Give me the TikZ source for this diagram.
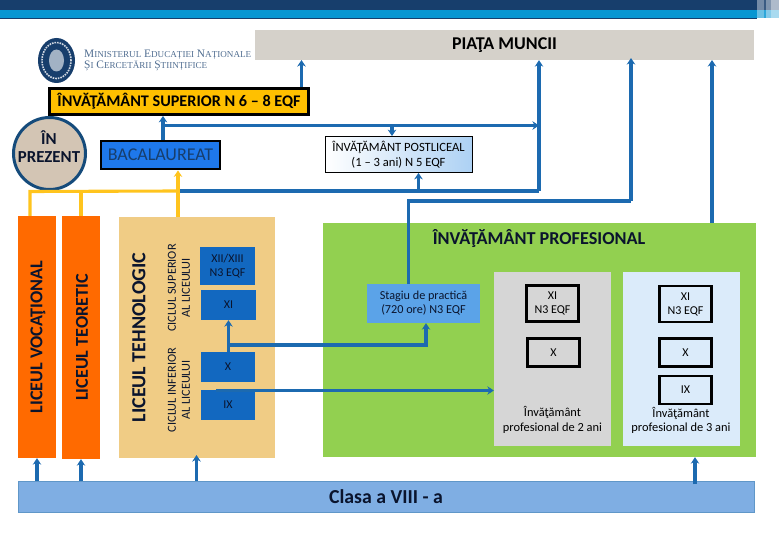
\documentclass[tikz,border=0pt]{standalone}
\usepackage{fontspec}
\usepackage{xcolor}
\setmainfont{Carlito}
\newfontfamily\logofont{Liberation Serif}
\usetikzlibrary{arrows.meta, positioning, shapes.geometric}
\definecolor{cNavy}{RGB}{23,62,108}
\definecolor{cBand}{RGB}{8,150,210}
\definecolor{cLine}{RGB}{28,106,176}
\definecolor{cYellow}{RGB}{255,196,30}
\definecolor{cGold}{RGB}{255,192,0}
\definecolor{cOrange}{RGB}{255,106,0}
\definecolor{cTan}{RGB}{240,204,133}
\definecolor{cGreen}{RGB}{146,208,80}
\definecolor{cBlue}{RGB}{18,104,192}
\definecolor{cBac}{RGB}{30,120,235}
\definecolor{cSky}{RGB}{91,163,232}
\definecolor{cBase}{RGB}{127,174,227}
\definecolor{cMarket}{RGB}{213,209,202}
\definecolor{cStone}{RGB}{211,197,180}
\definecolor{cInk}{RGB}{10,20,45}
\newcommand{\smallinit}[1]{{\fontsize{9.1}{11}\selectfont #1}}
\tikzset{
    plainbox/.style={rectangle, inner sep=0pt, text centered, align=center, draw=none},
    blackbox/.style={plainbox, draw=black, line width=2.8pt},
    gradebox/.style={plainbox, fill=cBlue, font=\fontsize{12}{14}\selectfont, text=cInk},
    yearbox/.style={blackbox, font=\fontsize{12}{14}\selectfont},
    flowarrow/.style={-{Stealth[length=6.5pt, width=8.5pt]}, line width=3.1pt, cLine},
    flowline/.style={line width=3.1pt, cLine},
    goldline/.style={line width=3.1pt, cYellow},
    sidetext/.style={rotate=90, inner sep=0pt, align=center},
}
\begin{document}
\begin{tikzpicture}[x=1pt, y=-1pt]
\useasboundingbox (0,0) rectangle (780,540);
% top band
\fill[cNavy] (0,0) rectangle (757,10);
\fill[cBand] (0,10) rectangle (757,18);
\fill[cNavy] (0,18) rectangle (757,19);
\fill[cNavy!60] (757,0) rectangle (764,10);
\fill[cBand!60] (757,10) rectangle (764,18);
\fill[cNavy!85] (764,0) rectangle (766,10);
\fill[cBand!85] (764,10) rectangle (766,18);
\fill[cNavy!55] (766,0) rectangle (771,10);
\fill[cBand!50] (766,10) rectangle (771,18);
\fill[cNavy!35] (771,0) rectangle (779,10);
\fill[cBand!35] (771,10) rectangle (779,18);
% logo
\node[ellipse, fill=cNavy, minimum width=37pt, minimum height=45pt, inner sep=0pt] (seal) at (56.5,60.5){};
\node[ellipse, draw=white!80!cNavy, densely dotted, line width=1.6pt, minimum width=29pt, minimum height=36pt, inner sep=0pt] (sealring) at (seal.center){};
\node[ellipse, fill=white!60!cNavy, minimum width=15pt, minimum height=22pt, inner sep=0pt] (shield) at (seal.center){};
\node[plainbox, anchor=west, text=cNavy!75, font=\logofont\fontsize{11.4}{11}\selectfont, align=left] (ministry) at (84,60.5){M\smallinit{INISTERUL} E\smallinit{DUCAȚIEI} N\smallinit{AȚIONALE}\\Ș\smallinit{I} C\smallinit{ERCETĂRII} Ș\smallinit{TIINȚIFICE}};
% top row
\node[plainbox, fill=cMarket, minimum width=499pt, minimum height=30pt, font=\bfseries\fontsize{18}{20}\selectfont] (market) at (504.5,45){PIAŢA MUNCII};
\node[blackbox, fill=cGold, minimum width=259pt, minimum height=26pt, font=\bfseries\fontsize{16.2}{18}\selectfont] (superior) at (179,101.5){ÎNVĂŢĂMÂNT SUPERIOR N 6 – 8 EQF};
\node[circle, draw=cNavy!85!cBand, line width=3pt, fill=cStone, minimum size=72pt, inner sep=0pt] (prezent) at (49.5,153.5){};
\node[plainbox, font=\bfseries\fontsize{16.8}{17.5}\selectfont, text=cInk] (prezenttext) at (49,146.5){ÎN\\PREZENT};
\node[blackbox, fill=cBac, minimum width=119pt, minimum height=28pt, text=cNavy, font=\fontsize{18}{20}\selectfont] (bac) at (160.5,155){BACALAUREAT};
\node[plainbox, draw=black, line width=0.8pt, left color=white, right color=cSky!50, minimum width=147pt, minimum height=36pt, font=\fontsize{12.6}{15}\selectfont] (postliceal) at (398.5,154.5){ÎNVĂŢĂMÂNT POSTLICEAL\\(1 – 3 ani) N 5 EQF};
% high school columns
\node[plainbox, fill=cOrange, minimum width=38pt, minimum height=242pt] (vocational) at (37,337){};
\node[plainbox, fill=cOrange, minimum width=38pt, minimum height=243pt] (teoretic) at (81,337.5){};
\node[sidetext, font=\bfseries\fontsize{18.1}{20}\selectfont, text=cInk] (vocationaltext) at (38,337){LICEUL VOCAŢIONAL};
\node[sidetext, font=\bfseries\fontsize{18.1}{20}\selectfont, text=cInk] (teoretictext) at (82,337.5){LICEUL TEORETIC};
\node[plainbox, fill=cTan, minimum width=156pt, minimum height=241pt] (tehnologic) at (197,337.5){};
\node[sidetext, font=\bfseries\fontsize{20}{22}\selectfont, text=cInk] (tehnologictext) at (139,337.5){LICEUL TEHNOLOGIC};
\node[sidetext, font=\fontsize{12.3}{14}\selectfont, text=cInk] (ciclusup) at (179,288){CICLUL SUPERIOR\\AL LICEULUI};
\node[sidetext, font=\fontsize{12.3}{14}\selectfont, text=cInk] (cicluinf) at (179,390){CICLUL INFERIOR\\AL LICEULUI};
\node[gradebox, minimum width=55pt, minimum height=38pt] (g12) at (227.5,266){XII/XIII\\N3 EQF};
\node[gradebox, minimum width=55pt, minimum height=30pt] (g11) at (228.5,305){XI};
\node[gradebox, minimum width=54pt, minimum height=30pt] (g10) at (228,367){X};
\node[gradebox, minimum width=54pt, minimum height=30pt] (g9) at (228,405){IX};
% vocational training
\node[plainbox, fill=cGreen, minimum width=433pt, minimum height=234pt] (profesional) at (539.5,340){};
\node[plainbox, font=\bfseries\fontsize{18.2}{20}\selectfont, text=cInk] (profesionaltext) at (539,238.5){ÎNVĂŢĂMÂNT PROFESIONAL};
\node[plainbox, fill=cSky, minimum width=113pt, minimum height=39pt, font=\fontsize{12.2}{14}\selectfont, text=cInk] (stagiu) at (423.5,303.5){Stagiu de practică\\(720 ore) N3 EQF};
\node[plainbox, fill=black!16, minimum width=117pt, minimum height=174pt] (doi) at (552.5,359){};
\node[plainbox, fill=cSky!22, minimum width=117pt, minimum height=174pt] (trei) at (681.5,359){};
\node[yearbox, minimum width=52pt, minimum height=36pt] (d11) at (552.5,303.5){XI\\N3 EQF};
\node[yearbox, minimum width=52pt, minimum height=28pt] (d10) at (553.5,352.5){X};
\node[yearbox, minimum width=52pt, minimum height=36pt] (t11) at (685.5,304){XI\\N3 EQF};
\node[yearbox, minimum width=52pt, minimum height=28pt] (t10) at (685.5,352.5){X};
\node[yearbox, minimum width=52pt, minimum height=28pt] (t9) at (685.5,390){IX};
\node[plainbox, font=\fontsize{12.4}{14.5}\selectfont] (doitext) at (552.5,420){Învăţământ\\profesional de 2 ani};
\node[plainbox, font=\fontsize{12.4}{14.5}\selectfont] (treitext) at (681,420.5){Învăţământ\\profesional de 3 ani};
% base
\node[plainbox, draw=cLine!70, line width=0.8pt, fill=cBase, minimum width=736pt, minimum height=31pt, font=\bfseries\fontsize{19.8}{22}\selectfont, text=cInk] (clasa) at (386,497){Clasa a VIII - a};
% junctions
\coordinate (pieceup) at (163,125.5);
\coordinate (pieceright) at (539,125.5);
\coordinate (postdown) at (392,125.5);
\coordinate (lowleft) at (178,191);
\coordinate (lowright) at (539,191);
\coordinate (postup) at (418.5,191);
\coordinate (stagiuup) at (408.5,201);
\coordinate (stagiuright) at (631,201);
\coordinate (markettip) at (631,58);
\coordinate (goldleft) at (30,191.5);
\coordinate (goldmid) at (81,191.5);
\coordinate (sup2market) at (301.5,60);
\coordinate (prof2market) at (712,60);
\coordinate (teh2base) at (196.5,455);
\coordinate (base2prof) at (695,484);
\coordinate (xi2stagiu) at (228,345);
\coordinate (stagiubend) at (426,345);
\coordinate (ix2doi) at (216,390.5);
% arrows
\draw[flowarrow] (superior.north -| sup2market) -- (sup2market);
\draw[flowarrow] (bac.north -| pieceup) -- (superior.south -| pieceup);
\draw[flowarrow] (pieceup) -- (pieceright);
\draw[flowarrow] (postdown) -- (postliceal.north -| postdown);
\draw[flowline] (lowleft) -- (lowright);
\draw[flowarrow] (postup) -- (postliceal.south -| postup);
\draw[flowarrow] (lowright) -- (market.south -| lowright);
\draw[flowline] (stagiu.north -| stagiuup) -- (stagiuup) -- (stagiuright);
\draw[flowarrow] (stagiuright) -- (markettip);
\draw[flowarrow] (profesional.north -| prof2market) -- (prof2market);
\draw[flowarrow] (clasa.north -| vocational) -- (vocational.south);
\draw[flowarrow] (clasa.north -| teoretic) -- (teoretic.south);
\draw[flowarrow] (clasa.north -| teh2base) -- (teh2base);
\draw[flowarrow] (base2prof) -- (profesional.south -| base2prof);
\draw[flowarrow] (g10.north -| g11) -- (g11.south);
\draw[flowarrow] (xi2stagiu) -- (stagiubend) -- (stagiu.south -| stagiubend);
\draw[flowarrow] (ix2doi) -- (doi.west |- ix2doi);
\draw[goldline] (goldleft |- vocational.north) -- (goldleft) -- (lowleft);
\draw[goldline] (goldmid) -- (goldmid |- teoretic.north);
\draw[goldline, -{Stealth[length=6.5pt, width=8.5pt]}] (tehnologic.north -| lowleft) -- (bac.south -| lowleft);
\end{tikzpicture}
\end{document}
